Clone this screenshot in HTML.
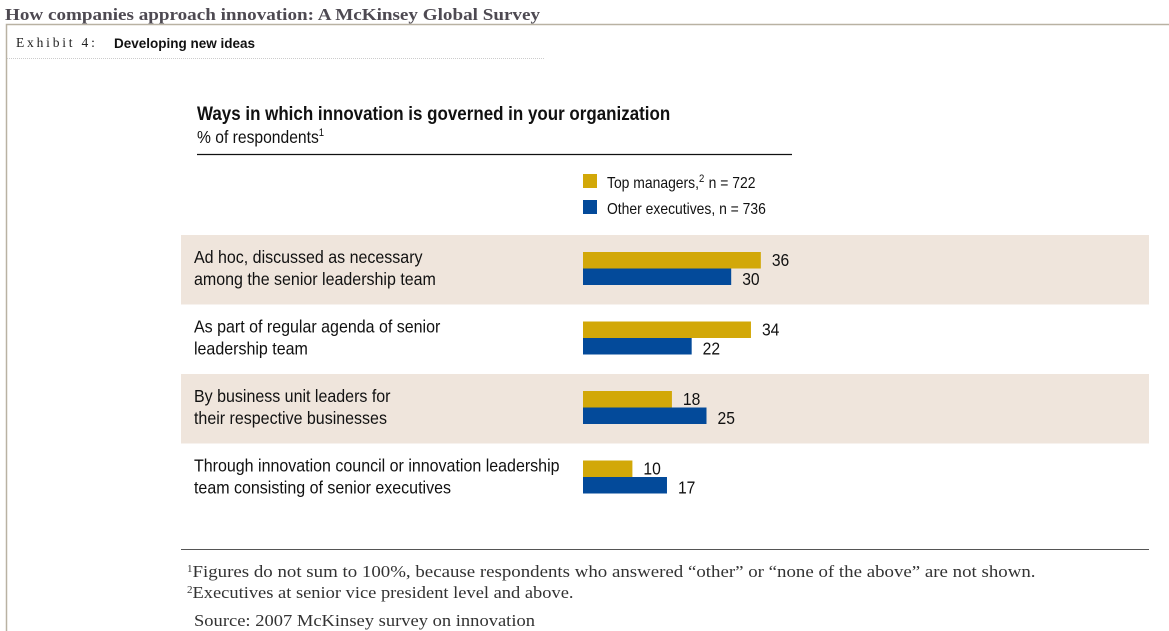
<!DOCTYPE html>
<html><head><meta charset="utf-8"><style>
body{margin:0;background:#fff;width:1169px;height:631px;overflow:hidden}
svg{display:block}
.n,.w{font-family:"Liberation Sans Narrow","Liberation Sans",sans-serif}
.s{font-family:"Liberation Serif",serif}
</style></head><body>
<svg id="c" width="1169" height="631" xmlns="http://www.w3.org/2000/svg">
<text class="s" x="5" y="20" font-size="16.5" font-weight="bold" fill="#4e4a52" textLength="535" lengthAdjust="spacingAndGlyphs">How companies approach innovation: A McKinsey Global Survey</text>
<path d="M6.5,631 V24.5 H1169" fill="none" stroke="#b9b2a3" stroke-width="1.5"/>
<text class="s" x="16" y="47" font-size="13.5" letter-spacing="2.8" fill="#222">Exhibit 4:</text>
<text class="w" x="114" y="48" font-size="13.5" font-weight="bold" fill="#111">Developing new ideas</text>
<line x1="7" y1="58.5" x2="545" y2="58.5" stroke="#ccc" stroke-dasharray="1,1"/>
<text class="n" x="197" y="120" font-size="19.5" font-weight="bold" fill="#111">Ways in which innovation is governed in your organization</text>
<text class="n" x="197" y="143" font-size="18" fill="#111">% of respondents<tspan font-size="11" dy="-7">1</tspan></text>
<line x1="197" y1="154.5" x2="792" y2="154.5" stroke="#111" stroke-width="1.2"/>
<rect x="583" y="174" width="14" height="14" fill="#d2a808"/>
<text class="n" x="607" y="188" font-size="16" fill="#111">Top managers,<tspan font-size="11" dy="-6">2</tspan><tspan dy="6" dx="5">n = 722</tspan></text>
<rect x="583" y="200" width="14" height="14" fill="#034a9a"/>
<text class="n" x="607" y="214" font-size="16" fill="#111">Other executives, n = 736</text>
<g id="rows"></g>
<line x1="181" y1="549.5" x2="1149" y2="549.5" stroke="#555" stroke-width="1"/>
<text class="s" x="187" y="577" font-size="16.5" fill="#333"><tspan font-size="11" dy="-5">1</tspan><tspan dy="5" textLength="843" lengthAdjust="spacingAndGlyphs">Figures do not sum to 100%, because respondents who answered “other” or “none of the above” are not shown.</tspan></text>
<text class="s" x="187" y="598" font-size="16.5" fill="#333"><tspan font-size="11" dy="-5">2</tspan><tspan dy="5" textLength="381" lengthAdjust="spacingAndGlyphs">Executives at senior vice president level and above.</tspan></text>
<text class="s" x="194" y="626" font-size="16.5" fill="#333" textLength="341" lengthAdjust="spacingAndGlyphs">Source: 2007 McKinsey survey on innovation</text>
</svg>
<script>
const categories=[["Ad hoc, discussed as necessary","among the senior leadership team"],["As part of regular agenda of senior","leadership team"],["By business unit leaders for","their respective businesses"],["Through innovation council or innovation leadership","team consisting of senior executives"]];
const topManagers=[36,34,18,10];
const otherExecutives=[30,22,25,17];
const NS="http://www.w3.org/2000/svg";
const g=document.getElementById('rows');
const x0=583,scale=4.94,rowTop=235,rowH=69.5;
const xs=v=>x0+v*scale;
function mk(t,a){const e=document.createElementNS(NS,t);for(const k in a)e.setAttribute(k,a[k]);g.appendChild(e);return e;}
categories.forEach((c,i)=>{
  const y=rowTop+i*rowH;
  if(i%2===0){const b=mk('rect',{x:181,y:y,width:968,height:rowH,fill:'#efe5dc'});
    
    }
  c.forEach((ln,j)=>{const t=mk('text',{x:194,y:y+28+j*22,'font-size':18,fill:'#111',class:'n cat'});t.textContent=ln;
    
    });
  const b1=mk('rect',{x:x0,y:y+17,width:xs(topManagers[i])-x0,height:16.5,fill:'#d2a808'});
  
  
  const b2=mk('rect',{x:x0,y:y+33.5,width:xs(otherExecutives[i])-x0,height:16.5,fill:'#034a9a'});
  
  
  const l1=mk('text',{x:xs(topManagers[i])+11,y:y+31,'font-size':18,fill:'#111',class:'n'});l1.textContent=topManagers[i];
  
  
  const l2=mk('text',{x:xs(otherExecutives[i])+11,y:y+50,'font-size':18,fill:'#111',class:'n'});l2.textContent=otherExecutives[i];
  
  
});
document.querySelectorAll('text.n').forEach(t=>{
  const x=+t.getAttribute('x'), sx=t.classList.contains('cat')?0.89:0.87;
  t.setAttribute('transform','translate('+x+',0) scale('+sx+',1) translate('+(-x)+',0)');
});
</script>
</body></html>
